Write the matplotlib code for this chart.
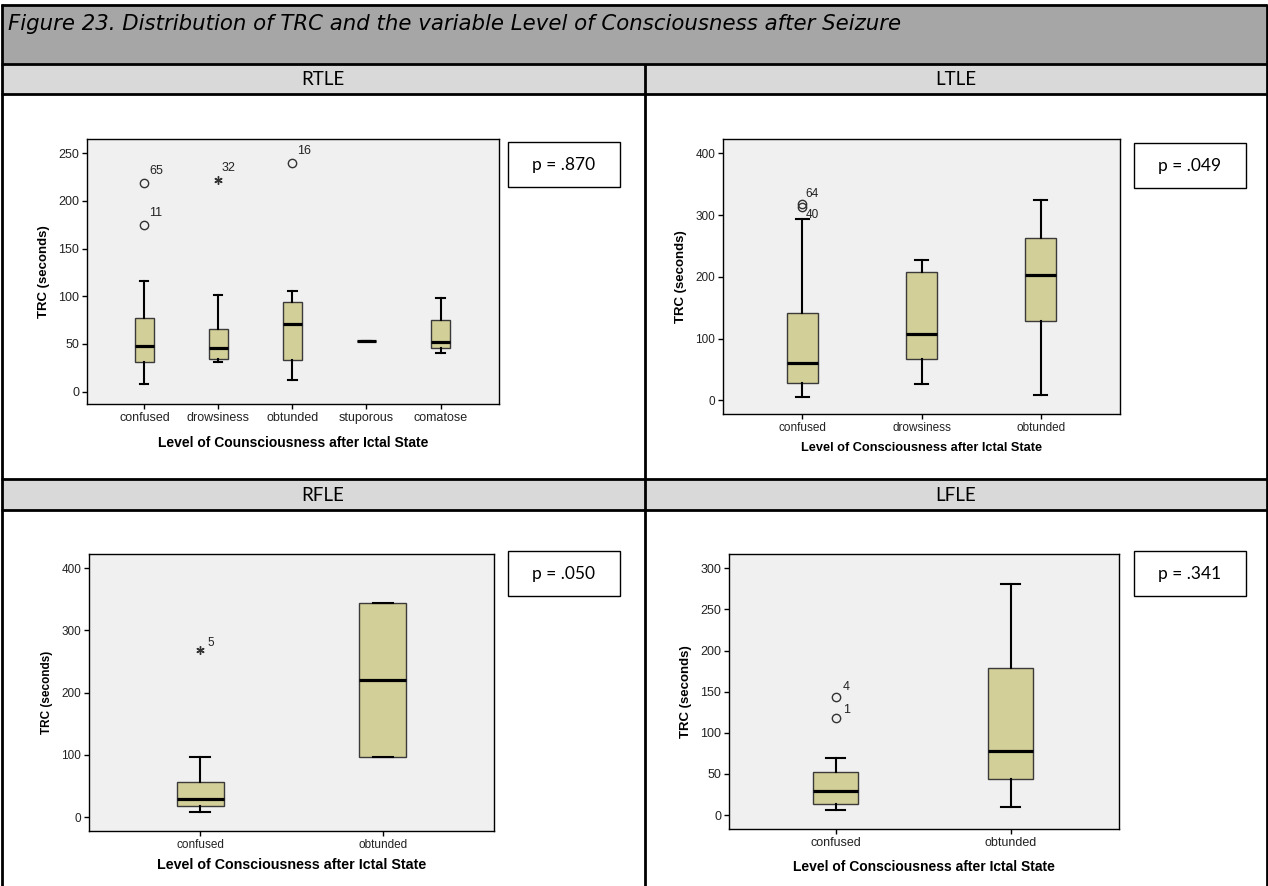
import matplotlib; matplotlib.use("Agg")
import matplotlib.pyplot as plt
from matplotlib.patches import Rectangle

W, H = 1268, 886

# ---- data: TRC (seconds) box statistics per group ----
rtle_cats = ["confused", "drowsiness", "obtunded", "stuporous", "comatose"]
rtle_lo  = [7.7, 30.8, 11.9, 52.8, 40.6]
rtle_q1  = [30.8, 34.6, 32.9, 52.8, 45.8]
rtle_med = [47.9, 46.2, 70.6, 52.8, 51.8]
rtle_q3  = [77.6, 65.4, 93.7, 52.8, 74.8]
rtle_hi  = [116.5, 101.8, 105.3, 52.8, 98.3]
rtle_out_grp = [0, 0, 1, 2]
rtle_out_val = [218.6, 174.5, 222.4, 239.5]
rtle_out_case = ["65", "11", "32", "16"]
rtle_out_kind = ["o", "o", "*", "o"]

ltle_cats = ["confused", "drowsiness", "obtunded"]
ltle_lo  = [5.4, 26.4, 8.1]
ltle_q1  = [28.6, 66.3, 128.3]
ltle_med = [60.4, 107.8, 202.2]
ltle_q3  = [140.7, 207.0, 263.6]
ltle_hi  = [293.3, 226.4, 323.5]
ltle_out_grp = [0, 0]
ltle_out_val = [317.5, 313.5]
ltle_out_case = ["64", "40"]
ltle_out_kind = ["o", "o"]

rfle_cats = ["confused", "obtunded"]
rfle_lo  = [8.6, 96.1]
rfle_q1  = [17.7, 96.1]
rfle_med = [29.0, 219.6]
rfle_q3  = [56.4, 343.6]
rfle_hi  = [97.2, 343.6]
rfle_out_grp = [0]
rfle_out_val = [267.9]
rfle_out_case = ["5"]
rfle_out_kind = ["*"]

lfle_cats = ["confused", "obtunded"]
lfle_lo  = [6.1, 10.1]
lfle_q1  = [13.0, 43.7]
lfle_med = [28.7, 78.1]
lfle_q3  = [52.2, 179.0]
lfle_hi  = [69.2, 280.6]
lfle_out_grp = [0, 0]
lfle_out_val = [143.7, 118.2]
lfle_out_case = ["4", "1"]
lfle_out_kind = ["o", "o"]

p_values = ["p = .870", "p = .049", "p = .050", "p = .341"]
headers = ["RTLE", "LTLE", "RFLE", "LFLE"]
title = "Figure 23. Distribution of TRC and the variable Level of Consciousness after Seizure"
xlab_rtle = "Level of Counsciousness after Ictal State"
xlab = "Level of Consciousness after Ictal State"
ylab = "TRC (seconds)"

BOX = "#d3cf98"
AXBG = "#f0f0f0"
SPSS = "Liberation Sans"

fig = plt.figure(figsize=(W / 100, H / 100), dpi=100)

# page layer in pixel coordinates for the table grid
bg = fig.add_axes([0, 0, 1, 1])
bg.set_xlim(0, W); bg.set_ylim(H, 0); bg.axis("off")
bg.add_patch(Rectangle((2, 5), 1265, 59, fc="#a6a6a6", ec="none"))
bg.add_patch(Rectangle((2, 64), 1265, 30, fc="#d9d9d9", ec="none"))
bg.add_patch(Rectangle((2, 479), 1265, 31, fc="#d9d9d9", ec="none"))
lk = dict(color="black", lw=2, solid_capstyle="butt")
for y in (5, 64, 94, 479, 510):
    bg.plot([1, 1267], [y, y], **lk)
bg.plot([2, 2], [4, H], **lk)
bg.plot([1266.5, 1266.5], [4, H], **lk)
bg.plot([645, 645], [64, H], **lk)
bg.text(8, 24, title, fontsize=15.3, style="italic", family="DejaVu Sans", va="center", ha="left")
for hx, hy, h in zip([323, 956, 323, 956], [79, 79, 495, 495], headers):
    bg.text(hx, hy, h, fontsize=13.5, family="Lato", ha="center", va="center")

for (x0, y0), p in zip([(508, 142), (1134, 143), (508, 551), (1134, 551)], p_values):
    bg.add_patch(Rectangle((x0, y0), 112, 45, fc="white", ec="black", lw=1))
    bg.text(x0 + 56, y0 + 23, p, fontsize=12.5, family="Lato", ha="center", va="center")


def panel(px, cats, lo, q1, med, q3, hi, og, ov, oc, ok, ylim, yticks, xl,
          label_off, xlpad, fs_tick, fs_xl, fs_yl):
    l, r, t, b = px
    ax = fig.add_axes([l / W, 1 - b / H, (r - l) / W, (b - t) / H])
    ax.set_facecolor(AXBG)
    pos = list(range(1, len(cats) + 1))
    stats = [dict(whislo=a, q1=c, med=m, q3=d, whishi=e, fliers=[])
             for a, c, m, d, e in zip(lo, q1, med, q3, hi)]
    ax.bxp(stats, positions=pos, widths=0.26, capwidths=0.11, patch_artist=True,
           showfliers=False,
           boxprops=dict(facecolor=BOX, edgecolor="#3a3a3a", lw=1),
           medianprops=dict(color="black", lw=2.3, solid_capstyle="butt"),
           whiskerprops=dict(color="black", lw=1.5),
           capprops=dict(color="black", lw=1.5))
    for g, v, c, k, (dx, dy) in zip(og, ov, oc, ok, label_off):
        if k == "o":
            ax.plot(pos[g], v, "o", ms=6, mfc="none", mec="#333333", mew=1)
        else:
            ax.plot(pos[g], v, marker=(6, 2, 0), ms=6, color="#333333", mew=1)
        ax.annotate(c, (pos[g], v), xytext=(dx, dy), textcoords="offset points",
                    fontsize=fs_tick, family=SPSS, color="#222222", va="center", ha="left")
    ax.set_ylim(*ylim)
    ax.set_yticks(yticks)
    ax.set_xticks(pos)
    ax.set_xticklabels(cats)
    for s in ax.spines.values():
        s.set_linewidth(1)
    ax.tick_params(direction="out", length=3.5, width=1, labelsize=fs_tick, pad=2,
                   colors="black", labelcolor="#222222")
    for tl in ax.get_xticklabels() + ax.get_yticklabels():
        tl.set_family(SPSS)
    ax.set_xlabel(xl, fontsize=fs_xl, fontweight="bold", family=SPSS, labelpad=xlpad)
    ax.set_ylabel(ylab, fontsize=fs_yl, fontweight="bold", family=SPSS, labelpad=6)
    return ax


a1 = panel((87, 499, 139, 404), rtle_cats, rtle_lo, rtle_q1, rtle_med, rtle_q3, rtle_hi,
           rtle_out_grp, rtle_out_val, rtle_out_case, rtle_out_kind,
           (-13, 265), [0, 50, 100, 150, 200, 250], xlab_rtle,
           [(3.5, 9), (3.5, 9), (2.5, 8), (3.5, 9)], 9, 9, 10, 9.5)
a1.set_xlim(0.225, 5.79)
a2 = panel((723, 1120, 139, 414), ltle_cats, ltle_lo, ltle_q1, ltle_med, ltle_q3, ltle_hi,
           ltle_out_grp, ltle_out_val, ltle_out_case, ltle_out_kind,
           (-22, 423), [0, 100, 200, 300, 400], xlab,
           [(2.5, 7), (2.5, -6)], 6, 8.5, 9.2, 9.5)
a2.set_xlim(0.335, 3.665)
a3 = panel((89, 494, 554, 831), rfle_cats, rfle_lo, rfle_q1, rfle_med, rfle_q3, rfle_hi,
           rfle_out_grp, rfle_out_val, rfle_out_case, rfle_out_kind,
           (-22.5, 423), [0, 100, 200, 300, 400], xlab,
           [(5, 5)], 5, 8.5, 10.3, 8.5)
a3.set_xlim(0.39, 2.61)
a4 = panel((729, 1119, 554, 829), lfle_cats, lfle_lo, lfle_q1, lfle_med, lfle_q3, lfle_hi,
           lfle_out_grp, lfle_out_val, lfle_out_case, lfle_out_kind,
           (-17, 317.5), [0, 50, 100, 150, 200, 250, 300], xlab,
           [(5, 7), (5, 6)], 8, 9, 10, 9.5)
a4.set_xlim(0.39, 2.62)

fig.savefig("out.png", dpi=100)
